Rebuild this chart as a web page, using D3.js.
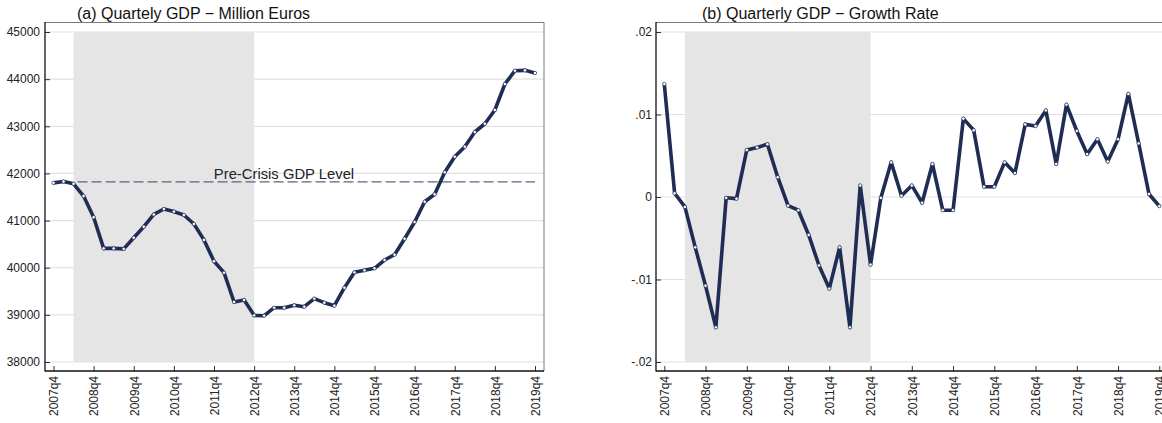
<!DOCTYPE html>
<html>
<head>
<meta charset="utf-8">
<script src="https://cdn.jsdelivr.net/npm/d3@7"></script>
<style>
  html, body { margin: 0; padding: 0; background: #fff; }
  svg { display: block; font-family: "Liberation Sans", Arial, sans-serif; }
</style>
</head>
<body>
<svg id="chart" width="1162" height="423"></svg>
<script>
// Quarters from 2007q4 to 2019q4
const quarters = [
  "2007q4",
  "2008q1","2008q2","2008q3","2008q4",
  "2009q1","2009q2","2009q3","2009q4",
  "2010q1","2010q2","2010q3","2010q4",
  "2011q1","2011q2","2011q3","2011q4",
  "2012q1","2012q2","2012q3","2012q4",
  "2013q1","2013q2","2013q3","2013q4",
  "2014q1","2014q2","2014q3","2014q4",
  "2015q1","2015q2","2015q3","2015q4",
  "2016q1","2016q2","2016q3","2016q4",
  "2017q1","2017q2","2017q3","2017q4",
  "2018q1","2018q2","2018q3","2018q4",
  "2019q1","2019q2","2019q3","2019q4"
];

// Quarterly GDP, million euros
const gdpLevel = [
  41800,
  41830, 41780, 41520, 41070,
  40410, 40410, 40400, 40636,
  40870, 41130, 41245, 41190,
  41118, 40927, 40590, 40136,
  39895, 39273, 39315, 38990,
  38982, 39152, 39150, 39202,
  39173, 39343, 39258, 39194,
  39576, 39902, 39945, 39987,
  40163, 40276, 40615, 40969,
  41400, 41557, 42024, 42355,
  42567, 42879, 43054, 43345,
  43897, 44179, 44187, 44130
];

// Quarter-on-quarter growth rate
const gdpGrowth = [
  0.0137,
  0.00045, -0.0012, -0.0061, -0.01075,
  -0.0158, -0.0001, -0.0002, 0.0057,
  0.0060, 0.0064, 0.0024, -0.00105,
  -0.0016, -0.0046, -0.0083, -0.0111,
  -0.0061, -0.0158, 0.0014, -0.0082,
  -0.0001, 0.0042, 0.00016, 0.0014,
  -0.0007, 0.0040, -0.0016, -0.0016,
  0.0095, 0.0081, 0.00125, 0.00125,
  0.0042, 0.0029, 0.0088, 0.0086,
  0.0105, 0.0040, 0.0112, 0.0080,
  0.0052, 0.0070, 0.0043, 0.0070,
  0.0125, 0.0065, 0.00036, -0.0011
];

const preCrisisLevel = 41820;
const recessionStart = "2008q2";
const recessionEnd = "2012q4";
const preCrisisFrom = "2008q2";

const xTickLabels = ["2007q4","2008q4","2009q4","2010q4","2011q4","2012q4",
                     "2013q4","2014q4","2015q4","2016q4","2017q4","2018q4","2019q4"];
const levelTicks = [38000, 39000, 40000, 41000, 42000, 43000, 44000, 45000];
const growthTicks = [-0.02, -0.01, 0, 0.01, 0.02];
const growthTickLabels = ["-.02", "-.01", "0", ".01", ".02"];

const titleA = "(a) Quartely GDP \u2212 Million Euros";
const titleB = "(b) Quarterly GDP \u2212 Growth Rate";
const preCrisisLabel = "Pre-Crisis GDP Level";

const NAVY = "#1f2d55";
const SHADE = "#e5e5e5";
const GRID = "#e1e1e1";

const svg = d3.select("#chart");

function panel(opts) {
  const g = svg.append("g");
  const x = d3.scalePoint().domain(quarters).range([opts.x0, opts.x1]);
  const y = d3.scaleLinear().domain(opts.yDomain).range([362, 32]);

  // horizontal gridlines
  g.append("g").selectAll("line").data(opts.yTicks).join("line")
    .attr("x1", opts.axisX).attr("x2", opts.frameR)
    .attr("y1", d => y(d)).attr("y2", d => y(d))
    .attr("stroke", GRID).attr("stroke-width", 1.2);

  // recession shading
  g.append("rect")
    .attr("x", x(recessionStart))
    .attr("width", x(recessionEnd) - x(recessionStart))
    .attr("y", y(opts.yDomain[1]))
    .attr("height", y(opts.yDomain[0]) - y(opts.yDomain[1]))
    .attr("fill", SHADE);

  if (opts.extra) opts.extra(g, x, y);

  // series line and markers
  const line = d3.line().x((d, i) => x(quarters[i])).y(d => y(d));
  g.append("path").datum(opts.values)
    .attr("d", line)
    .attr("fill", "none").attr("stroke", NAVY)
    .attr("stroke-width", 3.6).attr("stroke-linejoin", "round");
  g.append("g").selectAll("circle").data(opts.values).join("circle")
    .attr("cx", (d, i) => x(quarters[i])).attr("cy", d => y(d))
    .attr("r", 1.7).attr("fill", "#fff").attr("stroke", NAVY).attr("stroke-width", 0.7);

  // frame: top and right
  g.append("line").attr("x1", opts.axisX).attr("x2", opts.frameR)
    .attr("y1", 22.5).attr("y2", 22.5).attr("stroke", "#7a7a7a").attr("stroke-width", 1);
  g.append("line").attr("x1", opts.frameR).attr("x2", opts.frameR)
    .attr("y1", 22.5).attr("y2", 371).attr("stroke", "#7a7a7a").attr("stroke-width", 1);

  // y axis
  const yAxis = d3.axisLeft(y).tickValues(opts.yTicks)
    .tickSizeInner(-5).tickSizeOuter(0).tickPadding(opts.yPad)
    .tickFormat(opts.yFormat);
  const ya = g.append("g").attr("transform", `translate(${opts.axisX},0)`).call(yAxis);
  ya.select(".domain").remove();
  ya.selectAll("line").attr("stroke", "#333");
  ya.selectAll("text").attr("font-size", 12).attr("fill", "#222")
    .attr("font-family", "Liberation Sans, Arial, sans-serif");

  // x axis
  const xAxis = d3.axisBottom(x).tickValues(xTickLabels)
    .tickSizeInner(-5).tickSizeOuter(0);
  const xa = g.append("g").attr("transform", "translate(0,371)").call(xAxis);
  xa.select(".domain").remove();
  xa.selectAll("line").attr("stroke", "#333");
  xa.selectAll("text")
    .attr("font-size", 12).attr("fill", "#222")
    .attr("font-family", "Liberation Sans, Arial, sans-serif")
    .attr("transform", "rotate(-90)")
    .attr("x", -5).attr("y", 0).attr("dy", "0.36em")
    .style("text-anchor", "end");

  // axis lines
  g.append("line").attr("x1", opts.axisX).attr("x2", opts.axisX)
    .attr("y1", 22).attr("y2", 371.5).attr("stroke", "#111").attr("stroke-width", 1.3);
  g.append("line").attr("x1", opts.axisX).attr("x2", opts.frameR)
    .attr("y1", 371).attr("y2", 371).attr("stroke", "#111").attr("stroke-width", 1.3);

  // title
  svg.append("text").attr("x", opts.titleX).attr("y", 19)
    .attr("font-size", 16).attr("fill", "#111").text(opts.title);
}

panel({
  x0: 53.5, x1: 535, axisX: 45, frameR: 544,
  yDomain: [38000, 45000], yTicks: levelTicks, yPad: 5,
  yFormat: d => String(d),
  values: gdpLevel, title: titleA, titleX: 77,
  extra: (g, x, y) => {
    g.append("line")
      .attr("x1", x(preCrisisFrom) + 4).attr("x2", x(quarters[quarters.length - 1]))
      .attr("y1", y(preCrisisLevel)).attr("y2", y(preCrisisLevel))
      .attr("stroke", "#5a6584").attr("stroke-width", 1.4)
      .attr("stroke-dasharray", "10,4");
    g.append("text")
      .attr("x", 284).attr("y", y(preCrisisLevel) - 3)
      .attr("text-anchor", "middle").attr("font-size", 14.8).attr("fill", "#222")
      .text(preCrisisLabel);
  }
});

panel({
  x0: 664.3, x1: 1159.3, axisX: 656, frameR: 1170,
  yDomain: [-0.02, 0.02], yTicks: growthTicks, yPad: 4,
  yFormat: (d, i) => growthTickLabels[i],
  values: gdpGrowth, title: titleB, titleX: 702
});
</script>
</body>
</html>
